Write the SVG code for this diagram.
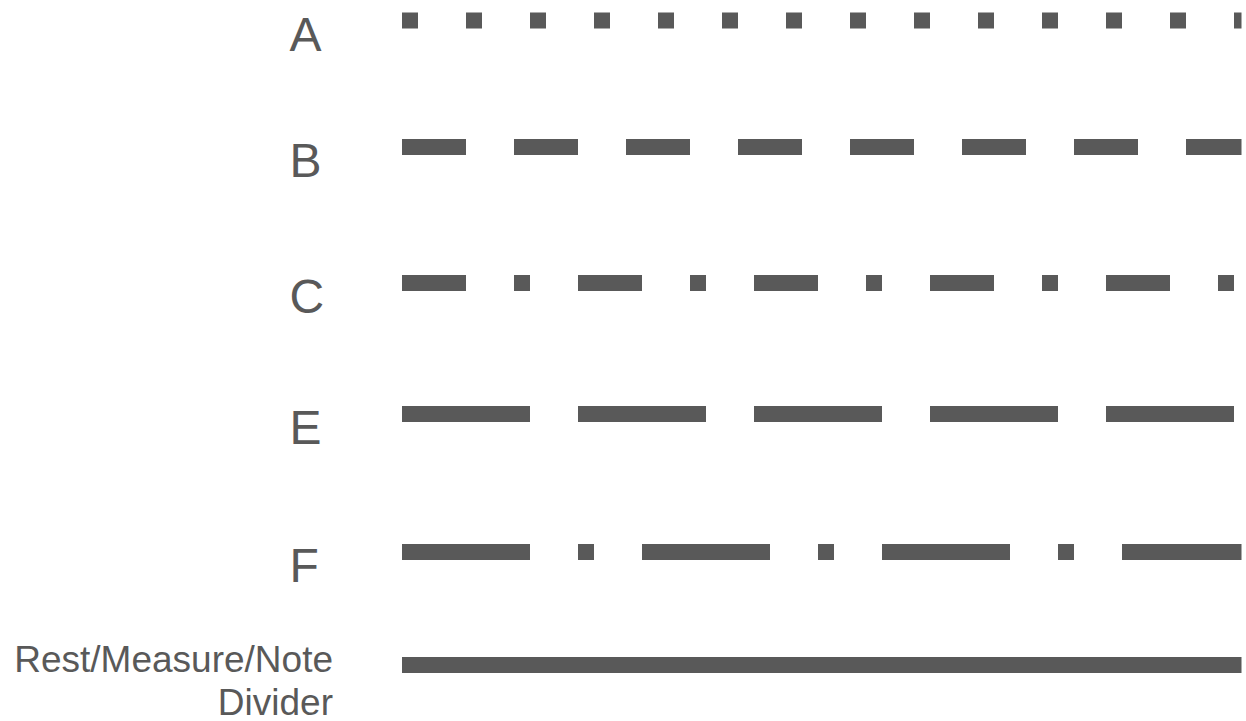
<svg xmlns="http://www.w3.org/2000/svg" width="1246" height="721" viewBox="0 0 1246 721">
<style>
.lbl{font-family:"Liberation Sans",Arial,sans-serif;font-size:48px;fill:#595959}
.lbl2{font-family:"Liberation Sans",Arial,sans-serif;font-size:37px;fill:#595959;text-anchor:end}
.ln{stroke:#595959;stroke-width:16;fill:none}
</style>
<rect width="1246" height="721" fill="#ffffff"/>
<g id="row-A">
<text class="lbl" x="289.5" y="51">A</text>
<line class="ln" x1="402" y1="20.5" x2="1241.5" y2="20.5" stroke-dasharray="16 48"/>
</g>
<g id="row-B">
<text class="lbl" x="289.5" y="176.5">B</text>
<line class="ln" x1="402" y1="147" x2="1241.5" y2="147" stroke-dasharray="64 48"/>
</g>
<g id="row-C">
<text class="lbl" x="289.5" y="312.5">C</text>
<line class="ln" x1="402" y1="283" x2="1241.5" y2="283" stroke-dasharray="64 48 16 48"/>
</g>
<g id="row-E">
<text class="lbl" x="289.5" y="444">E</text>
<line class="ln" x1="402" y1="414" x2="1241.5" y2="414" stroke-dasharray="128 48"/>
</g>
<g id="row-F">
<text class="lbl" x="289.5" y="582">F</text>
<line class="ln" x1="402" y1="552" x2="1241.5" y2="552" stroke-dasharray="128 48 16 48"/>
</g>
<g id="row-divider">
<text class="lbl2" x="333" y="672">Rest/Measure/Note</text>
<text class="lbl2" x="333" y="715">Divider</text>
<line class="ln" x1="402" y1="665" x2="1241.5" y2="665"/>
</g>
</svg>
